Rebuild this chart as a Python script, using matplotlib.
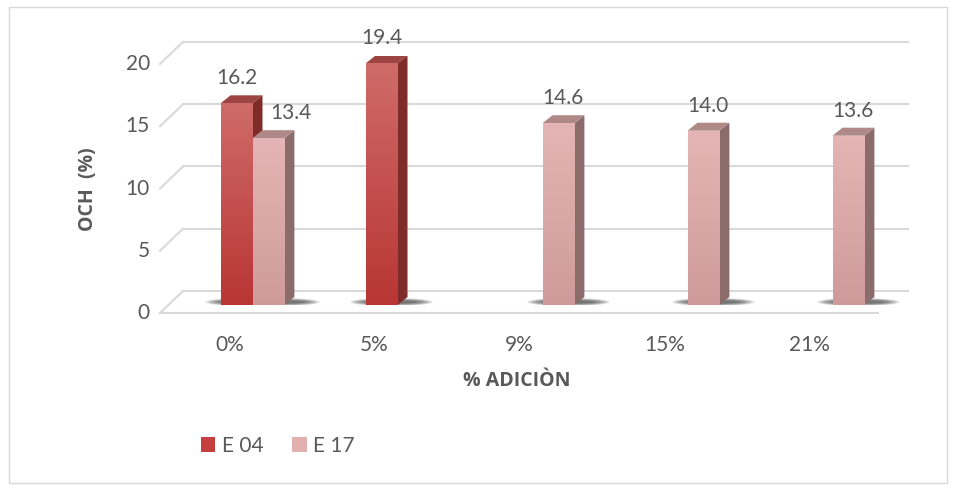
import matplotlib.pyplot as plt
import numpy as np
from matplotlib.patches import Polygon, Rectangle, Ellipse, Patch
from matplotlib.colors import LinearSegmentedColormap

plt.rcParams['font.family'] = ['Lato', 'DejaVu Sans']

categories = ['0%', '5%', '9%', '15%', '21%']
e04 = [16.2, 19.4, np.nan, np.nan, np.nan]
e17 = [13.4, np.nan, 14.6, 14.0, 13.6]
series_names = ['E 04', 'E 17']
yticks = [0, 5, 10, 15, 20]

# colours: (front top, front bottom, side, top, legend)
styles = {
    'E 04': ('#CF6B69', '#B83634', '#7E2B2A', '#9C4442', '#C4403E'),
    'E 17': ('#E4B5B4', '#CE9B9A', '#8C6C6B', '#AE8988', '#E2B0AF'),
}
text_col = '#595959'
grid_col = '#D9D9D9'

fig = plt.figure(figsize=(9.56, 4.9), dpi=100)
W, H = 956, 490
# axes = plane where the bars stand (pixels 180..905, 0 at y=305, 20 at y=56)
ax = fig.add_axes([180 / W, (H - 305) / H, 725 / W, 249 / H])
ax.set_xlim(-0.5, 4.5)
ax.set_ylim(0, 20)
ax.axis('off')

px_x = 725 / 5.0    # pixels per category
px_y = 249 / 20.0   # pixels per unit
# depth offsets in data units
front = (-20 / px_x, -8 / px_y)
back = (3 / px_x, 14 / px_y)
bar_depth = (10 / px_x, 8 / px_y)

# back wall grid
for v in yticks:
    ax.plot([-0.5 + back[0], 4.5 + back[0]], [v + back[1]] * 2,
            color=grid_col, lw=1.5, clip_on=False, zorder=1)
    # left wall diagonals
    ax.plot([-0.5 + front[0], -0.5 + back[0]], [v + front[1], v + back[1]],
            color=grid_col, lw=1.5, clip_on=False, zorder=1)
    ax.text(-0.5 + front[0] - 10 / px_x, v + front[1], str(v), ha='right',
            va='center', fontsize=15, color=text_col)
# floor front edge
ax.plot([-0.5 + front[0], 4.45 + front[0]], [front[1]] * 2,
        color=grid_col, lw=1.5, clip_on=False, zorder=1)

w = 0.22
x = np.arange(len(categories))


def draw_bar(xc, v, name, z):
    ftop, fbot, side, topc, _ = styles[name]
    x0, x1 = xc - w / 2, xc + w / 2
    dx, dy = bar_depth
    # soft shadow: stacked ellipses
    for k in range(6):
        ax.add_patch(Ellipse((xc + 10 / px_x, 3 / px_y),
                             w + (50 - 6 * k) / px_x, (8 - k) / px_y,
                             color='#2E2E2E', alpha=0.16, zorder=2, lw=0))
    ax.add_patch(Polygon([(x1, 0), (x1 + dx, dy), (x1 + dx, v + dy), (x1, v)],
                         closed=True, fc=side, ec='none', zorder=z))
    ax.add_patch(Polygon([(x0, v), (x1, v), (x1 + dx, v + dy), (x0 + dx, v + dy)],
                         closed=True, fc=topc, ec='none', zorder=z))
    rect = Rectangle((x0, 0), w, v, fc='none', ec='none', zorder=z)
    ax.add_patch(rect)
    cmap = LinearSegmentedColormap.from_list('g', [fbot, ftop])
    grad = np.linspace(0, 1, 100).reshape(-1, 1)
    im = ax.imshow(grad, cmap=cmap, extent=(x0, x1, 0, v), origin='lower',
                   aspect='auto', zorder=z + 0.1)
    im.set_clip_path(rect)


for i in range(len(categories)):
    if not np.isnan(e04[i]):
        draw_bar(x[i] - w / 2, e04[i], 'E 04', 3)
    if not np.isnan(e17[i]):
        draw_bar(x[i] + w / 2, e17[i], 'E 17', 4)

# data labels
for i in range(len(categories)):
    if not np.isnan(e04[i]):
        ax.annotate(f'{e04[i]:.1f}', (x[i] - w / 2, e04[i]), xytext=(0, 25),
                    textcoords='offset pixels', ha='center', va='center',
                    fontsize=15, color=text_col)
    if not np.isnan(e17[i]):
        shift = 22 if not np.isnan(e04[i]) else 4
        ax.annotate(f'{e17[i]:.1f}', (x[i] + w / 2, e17[i]), xytext=(shift, 25),
                    textcoords='offset pixels', ha='center', va='center',
                    fontsize=15, color=text_col)

# category labels
for i, c in enumerate(categories):
    ax.text(x[i] - 23 / px_x, -40 / px_y, c, ha='center', va='center',
            fontsize=15, color=text_col)

ax.set_xlim(-0.5, 4.5)
ax.set_ylim(0, 20)

fig.text(88 / W, 1 - 189 / H, 'OCH  (%)', rotation=90, ha='center', va='center',
         fontsize=14, fontweight='bold', color=text_col,
         family=['Open Sans', 'DejaVu Sans'])
fig.text(517 / W, 1 - 381 / H, '% ADICIÒN', ha='center', va='center',
         fontsize=14, fontweight='bold', color=text_col,
         family=['Open Sans', 'DejaVu Sans'])

handles = [Patch(fc=styles[n][4], ec='none') for n in series_names]
fig.legend(handles, series_names, loc='center left',
           bbox_to_anchor=(182 / W, 1 - 446 / H), frameon=False, ncol=2,
           handlelength=0.7, handleheight=0.7, handletextpad=0.3,
           columnspacing=1.4, fontsize=15, labelcolor=text_col)

# chart border
fig.patches.append(Rectangle((9 / W, 7 / H), 938 / W, 476 / H,
                             transform=fig.transFigure, fill=False,
                             ec='#D9D9D9', lw=1))

fig.savefig('out.png', dpi=100)
